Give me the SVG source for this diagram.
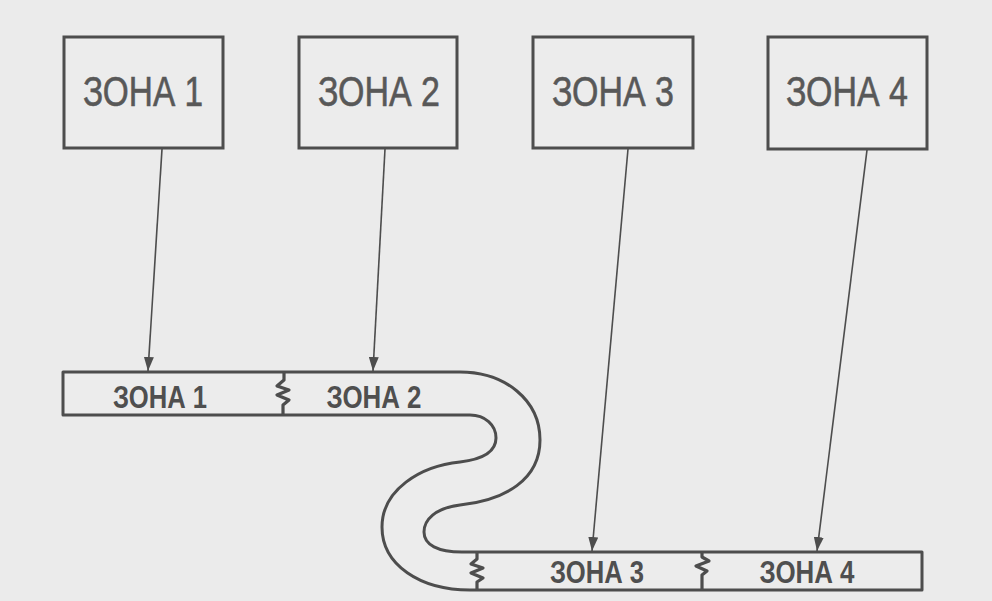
<svg xmlns="http://www.w3.org/2000/svg" width="992" height="601" viewBox="0 0 992 601">
<defs>
<style>
.box{fill:#ececec;stroke:#4d4d4d;stroke-width:3}
.big{font-family:"Liberation Sans",Arial,sans-serif;font-size:42px;fill:#585858;stroke:#585858;stroke-width:0.6;text-anchor:middle}
.small{font-family:"Liberation Sans",Arial,sans-serif;font-size:31px;font-weight:bold;fill:#4f4f4f;text-anchor:middle}
.band{fill:#ececec;stroke:#4d4d4d;stroke-width:3;stroke-linejoin:round}
.brk{fill:none;stroke:#4d4d4d;stroke-width:3.2;stroke-linejoin:round}
.conn{stroke:#4d4d4d;stroke-width:1.6;fill:none;marker-end:url(#ah)}
</style>
<marker id="ah" viewBox="0 0 14 10" refX="14" refY="5" markerWidth="14" markerHeight="10" markerUnits="userSpaceOnUse" orient="auto">
<path d="M0,0 L14,5 L0,10 Z" fill="#4d4d4d"/>
</marker>
</defs>
<rect width="992" height="601" fill="#ebebeb"/>
<g id="node-zone1"><rect class="box" x="64" y="37" width="159" height="111"/><text class="big" x="143" y="106" textLength="120" lengthAdjust="spacingAndGlyphs">ЗОНА 1</text></g>
<g id="node-zone2"><rect class="box" x="299" y="37" width="158" height="111"/><text class="big" x="379" y="106" textLength="122" lengthAdjust="spacingAndGlyphs">ЗОНА 2</text></g>
<g id="node-zone3"><rect class="box" x="533" y="37" width="160" height="111"/><text class="big" x="613" y="106" textLength="122" lengthAdjust="spacingAndGlyphs">ЗОНА 3</text></g>
<g id="node-zone4"><rect class="box" x="768" y="37" width="159" height="112"/><text class="big" x="847" y="106" textLength="122" lengthAdjust="spacingAndGlyphs">ЗОНА 4</text></g>
<g id="node-band">
<path class="band" d="M63,372 H460 C505,372 540,400 540,440 C540,480 505,500 460,505 C435,508 424,520 424,532 C424,545 438,552 462,552 H922 V590 H470 C420,590 382,565 382,527 C382,490 420,466 460,462 C485,459 496,450 496,438 C496,425 485,415 470,415 H63 Z"/>
<path class="brk" d="M284,372 V380 L277,386 L289,390 L277,395 L289,400 L283,405 V415"/>
<path class="brk" d="M477,552 V559 L471,564 L483,568 L471,573 L483,578 L477,582 V590"/>
<path class="brk" d="M702,552 V557 L709,561 L696,566 L707,571 L702,575 V590"/>
<text class="small" x="160" y="408" textLength="94" lengthAdjust="spacingAndGlyphs">ЗОНА 1</text>
<text class="small" x="374" y="408" textLength="95" lengthAdjust="spacingAndGlyphs">ЗОНА 2</text>
<text class="small" x="597" y="583" textLength="94" lengthAdjust="spacingAndGlyphs">ЗОНА 3</text>
<text class="small" x="807" y="583" textLength="95" lengthAdjust="spacingAndGlyphs">ЗОНА 4</text>
</g>
<g id="connectors">
<line class="conn" x1="162" y1="149" x2="148" y2="371"/>
<line class="conn" x1="385" y1="149" x2="373" y2="371"/>
<line class="conn" x1="628" y1="149" x2="592" y2="551"/>
<line class="conn" x1="867" y1="150" x2="817" y2="551"/>
</g>
</svg>
